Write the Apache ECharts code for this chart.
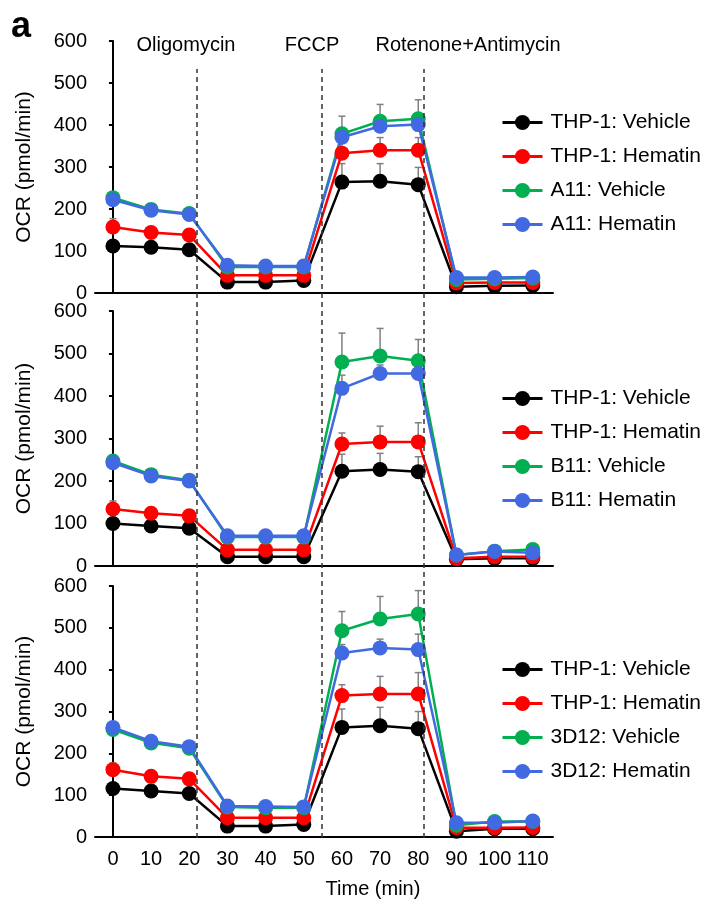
<!DOCTYPE html>
<html>
<head>
    <meta charset="utf-8">
    <title>OCR</title>
    <script src="https://cdn.jsdelivr.net/npm/echarts@6/dist/echarts.min.js"></script>
    <style>
        body { margin: 0; background: #fff; }
        #chart { width: 704px; height: 900px; }
    </style>
</head>
<body>
<div id="chart"></div>
<script>
    // time points (min)
    var times = [0, 10, 20, 30, 40, 50, 60, 70, 80, 90, 100, 110]
    // injection times
    var injections = [22, 54.6, 81.4]
    var injectionNames = ['Oligomycin', 'FCCP', 'Rotenone+Antimycin']

    // panel 1: A11
    var thpVeh1 = [112, 109, 103, 26, 26, 30, 264, 266, 258, 15, 17, 18]
    var thpHem1 = [157, 144, 138, 42, 42, 42, 333, 340, 340, 24, 25, 25]
    var a11Veh = [227, 199, 189, 62, 62, 62, 379, 409, 415, 32, 34, 36]
    var a11Hem = [222, 197, 187, 66, 64, 64, 371, 397, 401, 37, 37, 38]
    var thpVehErr1 = [8, 6, 6, 4, 4, 4, 44, 42, 41, 3, 3, 3]
    var thpHemErr1 = [20, 8, 8, 4, 4, 4, 30, 30, 30, 3, 3, 3]
    var a11VehErr = [5, 5, 5, 4, 4, 4, 42, 40, 45, 3, 3, 3]
    var a11HemErr = [5, 5, 5, 4, 4, 4, 20, 20, 20, 3, 3, 3]

    // panel 2: B11
    var thpVeh2 = [100, 94, 89, 22, 22, 22, 223, 227, 222, 16, 18, 18]
    var thpHem2 = [134, 124, 118, 38, 38, 38, 287, 292, 292, 18, 22, 22]
    var b11Veh = [247, 215, 202, 68, 68, 68, 480, 494, 483, 26, 35, 39]
    var b11Hem = [243, 212, 200, 71, 71, 71, 418, 453, 453, 26, 34, 31]
    var thpVehErr2 = [6, 5, 5, 3, 3, 3, 40, 38, 35, 3, 3, 3]
    var thpHemErr2 = [19, 8, 8, 4, 4, 4, 26, 37, 45, 3, 3, 3]
    var b11VehErr = [6, 6, 6, 4, 4, 4, 68, 65, 50, 3, 3, 3]
    var b11HemErr = [6, 6, 6, 4, 4, 4, 31, 20, 20, 3, 3, 3]

    // panel 3: 3D12
    var thpVeh3 = [116, 110, 104, 26, 26, 30, 262, 266, 259, 14, 20, 20]
    var thpHem3 = [161, 145, 139, 46, 46, 46, 338, 342, 342, 22, 22, 23]
    var d12Veh = [257, 225, 212, 72, 70, 70, 493, 521, 533, 28, 37, 37]
    var d12Hem = [262, 229, 216, 74, 73, 72, 440, 452, 448, 34, 34, 38]
    var thpVehErr3 = [6, 5, 5, 3, 3, 3, 44, 44, 41, 3, 3, 3]
    var thpHemErr3 = [16, 8, 8, 4, 4, 4, 26, 42, 51, 3, 3, 3]
    var d12VehErr = [6, 6, 6, 4, 4, 4, 46, 54, 56, 3, 3, 3]
    var d12HemErr = [6, 6, 6, 4, 4, 4, 20, 21, 37, 3, 3, 3]

    var colors = ['#000000', '#ff0000', '#00b050', '#4169e1']
    var font = 'Liberation Sans, Arial, sans-serif'

    var panels = [
        {names: ['THP-1: Vehicle', 'THP-1: Hematin', 'A11: Vehicle', 'A11: Hematin'],
            vals: [thpVeh1, thpHem1, a11Veh, a11Hem], errs: [thpVehErr1, thpHemErr1, a11VehErr, a11HemErr]},
        {names: ['THP-1: Vehicle', 'THP-1: Hematin', 'B11: Vehicle', 'B11: Hematin'],
            vals: [thpVeh2, thpHem2, b11Veh, b11Hem], errs: [thpVehErr2, thpHemErr2, b11VehErr, b11HemErr]},
        {names: ['THP-1: Vehicle', 'THP-1: Hematin', '3D12: Vehicle', '3D12: Hematin'],
            vals: [thpVeh3, thpHem3, d12Veh, d12Hem], errs: [thpVehErr3, thpHemErr3, d12VehErr, d12HemErr]}
    ]

    var gridTops = [41, 311, 586]
    var gridHeights = [252, 255, 252]
    var legendTops = [107, 383, 654]

    function errBar(params, api) {
        var x = api.value(0), y = api.value(1), e = api.value(2)
        var p0 = api.coord([x, y])
        var p1 = api.coord([x, y + e])
        var st = {stroke: '#808080', lineWidth: 1.5}
        return {
            type: 'group', children: [
                {type: 'line', shape: {x1: p0[0], y1: p0[1], x2: p1[0], y2: p1[1]}, style: st},
                {type: 'line', shape: {x1: p1[0] - 3.5, y1: p1[1], x2: p1[0] + 3.5, y2: p1[1]}, style: st}
            ]
        }
    }

    var grids = [], xAxes = [], yAxes = [], series = [], legends = []

    panels.forEach(function (p, k) {
        grids.push({left: 95, width: 458, top: gridTops[k], height: gridHeights[k]})
        xAxes.push({
            gridIndex: k, type: 'value', min: -4.7, max: 115.3,
            splitLine: {show: false},
            axisLine: {lineStyle: {color: '#000', width: 2}},
            axisTick: {show: false},
            axisLabel: {show: k === 2, customValues: times, color: '#000', fontSize: 20, fontFamily: font, margin: 12},
            name: k === 2 ? 'Time (min)' : '',
            nameLocation: 'middle', nameGap: 42,
            nameTextStyle: {color: '#000', fontSize: 20, fontFamily: font, padding: [0, 0, 0, 98]}
        })
        yAxes.push({
            gridIndex: k, type: 'value', min: 0, max: 600, interval: 100,
            splitLine: {show: false},
            axisLine: {show: true, lineStyle: {color: '#000', width: 2}},
            axisTick: {show: true, length: 4, lineStyle: {color: '#000', width: 2}},
            axisLabel: {color: '#000', fontSize: 20, fontFamily: font, margin: 8},
            name: 'OCR (pmol/min)', nameLocation: 'middle', nameGap: 60,
            nameTextStyle: {color: '#000', fontSize: 21, fontFamily: font}
        })
        legends.push({
            data: p.names, orient: 'vertical', left: 496, top: legendTops[k],
            itemWidth: 40, itemHeight: 19, itemGap: 13, selectedMode: false,
            lineStyle: {width: 3},
            textStyle: {color: '#000', fontSize: 21, fontFamily: font, padding: [0, 0, 0, 3]}
        })
        p.vals.forEach(function (v, i) {
            series.push({
                type: 'custom', name: p.names[i] + ' err', xAxisIndex: k, yAxisIndex: k,
                renderItem: errBar, z: 1, silent: true,
                data: times.map(function (t, j) { return [t, v[j], p.errs[i][j]] })
            })
        })
        p.vals.forEach(function (v, i) {
            series.push({
                type: 'line', name: p.names[i], xAxisIndex: k, yAxisIndex: k,
                symbol: 'circle', symbolSize: 15, z: 2,
                itemStyle: {color: colors[i]},
                lineStyle: {color: colors[i], width: 2.5},
                data: times.map(function (t, j) { return [t, v[j]] })
            })
        })
    })

    // overlay grid for injection lines spanning all panels
    grids.push({left: 95, width: 458, top: 69, height: 769})
    xAxes.push({gridIndex: 3, type: 'value', min: -4.7, max: 115.3, show: false})
    yAxes.push({gridIndex: 3, type: 'value', min: 0, max: 1, show: false})
    series.push({
        type: 'line', xAxisIndex: 3, yAxisIndex: 3, data: [], silent: true,
        markLine: {
            symbol: 'none', silent: true, label: {show: false},
            lineStyle: {color: '#333', type: [5, 4], width: 1.5},
            data: injections.map(function (x) { return {xAxis: x} })
        }
    })

    var myChart = echarts.init(document.getElementById('chart'))
    myChart.setOption({
        animation: false,
        grid: grids,
        xAxis: xAxes,
        yAxis: yAxes,
        legend: legends,
        series: series,
        graphic: [
            {type: 'text', left: 11, top: 9, style: {text: 'a', font: 'bold 36px ' + font, fill: '#000'}},
            {type: 'text', x: 186, y: 45, style: {text: injectionNames[0], font: '20px ' + font, fill: '#000', align: 'center', verticalAlign: 'middle'}},
            {type: 'text', x: 312, y: 45, style: {text: injectionNames[1], font: '20px ' + font, fill: '#000', align: 'center', verticalAlign: 'middle'}},
            {type: 'text', x: 468, y: 45, style: {text: injectionNames[2], font: '20px ' + font, fill: '#000', align: 'center', verticalAlign: 'middle'}}
        ]
    })
</script>
</body>
</html>
